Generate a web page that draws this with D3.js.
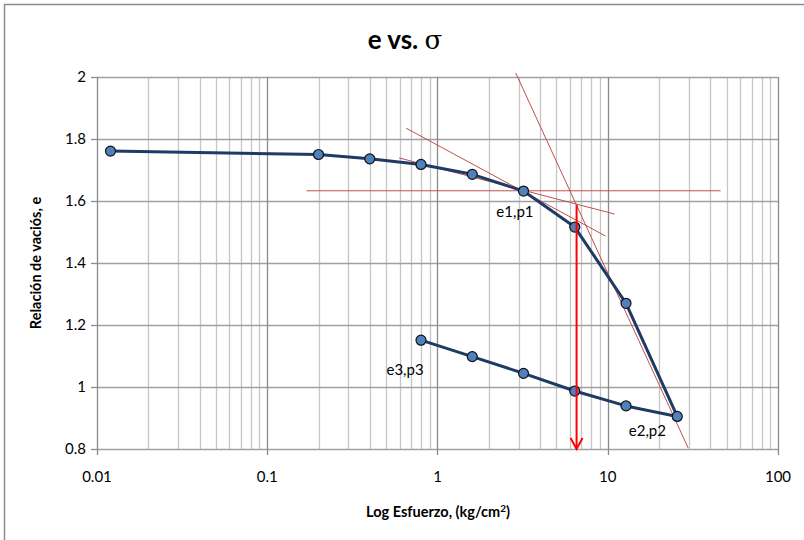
<!DOCTYPE html>
<html>
<head>
<meta charset="utf-8">
<script src="https://cdn.jsdelivr.net/npm/d3@7"></script>
<style>
  body { margin: 0; background: #fff; }
  text { font-family: Lato, "Open Sans", sans-serif; fill: #000; }
</style>
</head>
<body>
<script>
// consolidation test: stress (kg/cm2) and void ratio e
var stress = [0.012, 0.2, 0.4, 0.8, 1.6, 3.2, 6.4, 12.8, 25.6, 12.8, 6.4, 3.2, 1.6, 0.8];
var voidRatio = [1.761, 1.750, 1.736, 1.718, 1.686, 1.632, 1.516, 1.270, 0.905, 0.939, 0.987, 1.044, 1.098, 1.151];

// Casagrande construction lines (start/end in data units)
var guideX = [[0.17, 46], [0.654, 9.7], [0.595, 10.96], [2.88, 29.7]];
var guideE = [[1.633, 1.633], [1.835, 1.487], [1.739, 1.558], [2.013, 0.803]];
var arrowX = 6.56;
var arrowE = [1.587, 0.8];

var noteText = ["e1,p1", "e2,p2", "e3,p3"];
var noteX = [2.85, 17.1, 0.645];
var noteE = [1.548, 0.842, 1.039];

var xTicks = [0.01, 0.1, 1, 10, 100];
var xTickLabels = ["0.01", "0.1", "1", "10", "100"];
var yTicks = [0.8, 1, 1.2, 1.4, 1.6, 1.8, 2];

var width = 804, height = 540;
var margin = {left: 97, right: 26, top: 77, bottom: 91};

var svg = d3.select("body").append("svg")
    .attr("width", width)
    .attr("height", height);

// chart border
svg.append("rect")
    .attr("x", 4.5).attr("y", 4.5)
    .attr("width", width).attr("height", height)
    .attr("fill", "#fff")
    .attr("stroke", "#8c8c8c")
    .attr("stroke-width", 1.5);

var x = d3.scaleLog()
    .domain([0.01, 100])
    .range([margin.left, width - margin.right]);

var y = d3.scaleLinear()
    .domain([0.8, 2])
    .range([height - margin.bottom, margin.top]);

var g = svg.append("g");

// minor vertical grid
var minor = [];
for (var d = 0.01; d < 100; d *= 10) {
  for (var k = 2; k <= 9; k++) minor.push(d * k);
}
g.selectAll(".minor")
    .data(minor)
  .enter().append("line")
    .attr("x1", function(d) { return Math.round(x(d)) + 0.5; })
    .attr("x2", function(d) { return Math.round(x(d)) + 0.5; })
    .attr("y1", y(2)).attr("y2", y(0.8))
    .attr("stroke", "#c6c6c6")
    .attr("stroke-width", 1.3);

// horizontal grid
g.selectAll(".hgrid")
    .data(yTicks)
  .enter().append("line")
    .attr("x1", x(0.01)).attr("x2", x(100))
    .attr("y1", function(d) { return Math.round(y(d)) + 0.5; })
    .attr("y2", function(d) { return Math.round(y(d)) + 0.5; })
    .attr("stroke", "#a0a0a0")
    .attr("stroke-width", 1.3);

// major vertical grid
g.selectAll(".major")
    .data(xTicks)
  .enter().append("line")
    .attr("x1", function(d) { return Math.round(x(d)) + 0.5; })
    .attr("x2", function(d) { return Math.round(x(d)) + 0.5; })
    .attr("y1", y(2)).attr("y2", y(0.8) + 6)
    .attr("stroke", "#8a8a8a")
    .attr("stroke-width", 1.3);

// y axis ticks
g.selectAll(".ytick")
    .data(yTicks)
  .enter().append("line")
    .attr("x1", x(0.01) - 6).attr("x2", x(0.01))
    .attr("y1", function(d) { return Math.round(y(d)) + 0.5; })
    .attr("y2", function(d) { return Math.round(y(d)) + 0.5; })
    .attr("stroke", "#8a8a8a")
    .attr("stroke-width", 1.3);

g.selectAll(".ylab")
    .data(yTicks)
  .enter().append("text")
    .attr("x", x(0.01) - 11)
    .attr("y", function(d) { return y(d); })
    .attr("dy", "0.35em")
    .attr("text-anchor", "end")
    .style("font-size", "15px")
    .text(function(d) { return d3.format("")(d); });

g.selectAll(".xlab")
    .data(xTicks)
  .enter().append("text")
    .attr("x", function(d) { return x(d); })
    .attr("y", y(0.8) + 33)
    .attr("text-anchor", "middle")
    .style("font-size", "15px")
    .text(function(d, i) { return xTickLabels[i]; });

// construction lines
g.selectAll(".guide")
    .data(guideX)
  .enter().append("line")
    .attr("x1", function(d) { return x(d[0]); })
    .attr("x2", function(d) { return x(d[1]); })
    .attr("y1", function(d, i) { return y(guideE[i][0]); })
    .attr("y2", function(d, i) { return y(guideE[i][1]); })
    .attr("stroke", "#c0504d")
    .attr("stroke-width", 1);

// data curve
var line = d3.line()
    .x(function(d) { return x(d); })
    .y(function(d, i) { return y(voidRatio[i]); });

g.append("path")
    .datum(stress)
    .attr("d", line)
    .attr("fill", "none")
    .attr("stroke", "#1f3b63")
    .attr("stroke-width", 3)
    .attr("stroke-linejoin", "round");

g.selectAll("circle")
    .data(stress)
  .enter().append("circle")
    .attr("cx", function(d) { return x(d); })
    .attr("cy", function(d, i) { return y(voidRatio[i]); })
    .attr("r", 5)
    .attr("fill", "#4f81bd")
    .attr("stroke", "#111")
    .attr("stroke-width", 1.2);

// red arrow
var ax = x(arrowX), ay0 = y(arrowE[0]), ay1 = y(arrowE[1]);
g.append("line")
    .attr("x1", ax).attr("x2", ax)
    .attr("y1", ay0).attr("y2", ay1)
    .attr("stroke", "#ff0000")
    .attr("stroke-width", 2);
g.append("path")
    .attr("d", "M" + (ax - 6) + "," + (ay1 - 11) + "L" + ax + "," + ay1 + "L" + (ax + 6) + "," + (ay1 - 11))
    .attr("fill", "none")
    .attr("stroke", "#ff0000")
    .attr("stroke-width", 2);

// annotations
g.selectAll(".note")
    .data(noteText)
  .enter().append("text")
    .attr("x", function(d, i) { return x(noteX[i]); })
    .attr("y", function(d, i) { return y(noteE[i]); })
    .attr("text-anchor", "middle")
    .style("font-size", "15px")
    .text(function(d) { return d; });

// title
var title = svg.append("text")
    .attr("x", 405)
    .attr("y", 49)
    .attr("text-anchor", "middle")
    .style("font-size", "26px")
    .style("font-weight", "bold");
title.append("tspan").text("e vs. ");
title.append("tspan")
    .style("font-family", "'DejaVu Serif', 'Liberation Serif', serif")
    .style("font-weight", "normal")
    .text("σ");

// axis titles
var xt = svg.append("text")
    .attr("x", 438)
    .attr("y", 517)
    .attr("text-anchor", "middle")
    .style("font-size", "14.5px")
    .style("font-weight", "bold");
xt.append("tspan").text("Log Esfuerzo, (kg/cm");
xt.append("tspan").attr("dy", -5).style("font-size", "10px").text("2");
xt.append("tspan").attr("dy", 5).text(")");

svg.append("text")
    .attr("transform", "translate(41," + y(1.4) + ") rotate(-90)")
    .attr("text-anchor", "middle")
    .style("font-size", "14.5px")
    .style("font-weight", "bold")
    .text("Relación de vaciós, e");
</script>
</body>
</html>
